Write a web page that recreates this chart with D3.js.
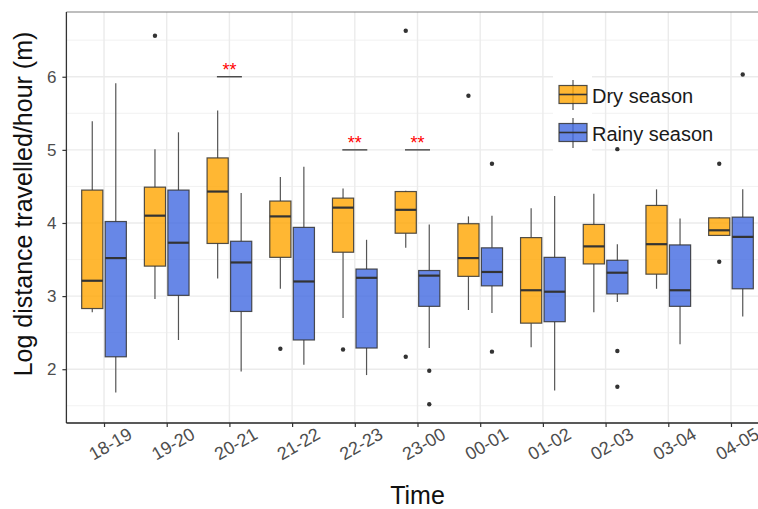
<!DOCTYPE html>
<html>
<head>
<meta charset="utf-8">
<script src="https://cdn.jsdelivr.net/npm/d3@7"></script>
<style>
  body { margin: 0; background: #fff; }
  text { font-family: "Liberation Sans", Arial, sans-serif; }
</style>
</head>
<body>
<div id="chart"></div>
<script>
// time slots (x categories)
var times = ["18-19", "19-20", "20-21", "21-22", "22-23", "23-00",
             "00-01", "01-02", "02-03", "03-04", "04-05"];

// box stats per slot: [lower whisker, q1, median, q3, upper whisker]
var dryStats = [
  [2.78, 2.83, 3.21, 4.45, 5.39],
  [2.96, 3.41, 4.10, 4.49, 5.01],
  [3.24, 3.72, 4.43, 4.89, 5.54],
  [3.10, 3.53, 4.09, 4.30, 4.63],
  [2.70, 3.60, 4.21, 4.34, 4.47],
  [3.66, 3.86, 4.18, 4.43, 4.44],
  [2.81, 3.27, 3.52, 3.99, 4.09],
  [2.30, 2.63, 3.08, 3.80, 4.20],
  [2.78, 3.44, 3.68, 3.98, 4.40],
  [3.10, 3.30, 3.71, 4.24, 4.46],
  [3.83, 3.83, 3.90, 4.07, 4.08]
];
var dryOutliers = [[], [6.56], [], [2.28], [2.27], [6.63, 2.17], [5.74], [], [], [], [4.81, 3.47]];

var rainyStats = [
  [1.68, 2.17, 3.52, 4.02, 5.91],
  [2.40, 3.01, 3.73, 4.45, 5.24],
  [1.97, 2.79, 3.46, 3.75, 4.41],
  [2.06, 2.40, 3.20, 3.94, 4.77],
  [1.92, 2.29, 3.25, 3.37, 3.77],
  [2.29, 2.86, 3.28, 3.35, 3.98],
  [2.77, 3.14, 3.33, 3.66, 4.10],
  [1.71, 2.65, 3.06, 3.53, 4.37],
  [2.92, 3.03, 3.32, 3.49, 3.71],
  [2.34, 2.86, 3.08, 3.70, 4.06],
  [2.72, 3.10, 3.81, 4.08, 4.46]
];
var rainyOutliers = [[], [], [], [], [], [1.98, 1.52], [4.81, 2.24], [], [5.01, 2.25, 1.76], [], [6.03]];

// significance marks
var sigTimes = ["20-21", "22-23", "23-00"];
var sigLevels = [6, 5, 5];
var sigLabel = "**";

var yTicks = [2, 3, 4, 5, 6];
var yMinor = [1.5, 2.5, 3.5, 4.5, 5.5, 6.5];

var width = 758,
    height = 509;
var panel = { left: 66.4, right: 768.6, top: 12, bottom: 423 };

var svg = d3.select("#chart").append("svg")
    .attr("width", width)
    .attr("height", height);

var x = d3.scalePoint()
    .domain(times)
    .range([panel.left, panel.right])
    .padding(0.6);
var step = x.step();

var allVals = [];
dryStats.concat(rainyStats).forEach(function (s) { allVals = allVals.concat(s); });
dryOutliers.concat(rainyOutliers).forEach(function (o) { allVals = allVals.concat(o); });
allVals = allVals.concat(sigLevels);
var ext = d3.extent(allVals);
var pad = (ext[1] - ext[0]) * 0.05;

var y = d3.scaleLinear()
    .domain([ext[0] - pad, ext[1] + pad])
    .range([panel.bottom, panel.top]);

var series = [
  { name: "Dry season", fill: "orange", stats: dryStats, outliers: dryOutliers, offset: -0.1875 },
  { name: "Rainy season", fill: "royalblue", stats: rainyStats, outliers: rainyOutliers, offset: 0.1875 }
];
var boxW = 0.3375 * step;

// grid
var grid = svg.append("g");
grid.selectAll(".minor").data(yMinor).enter().append("line")
    .attr("x1", panel.left).attr("x2", panel.right)
    .attr("y1", function (d) { return y(d); }).attr("y2", function (d) { return y(d); })
    .attr("stroke", "#f0f0f0").attr("stroke-width", 0.9);
grid.selectAll(".major").data(yTicks).enter().append("line")
    .attr("x1", panel.left).attr("x2", panel.right)
    .attr("y1", function (d) { return y(d); }).attr("y2", function (d) { return y(d); })
    .attr("stroke", "#ebebeb").attr("stroke-width", 1.4);
grid.selectAll(".vmajor").data(times).enter().append("line")
    .attr("y1", panel.top).attr("y2", panel.bottom)
    .attr("x1", function (d) { return x(d); }).attr("x2", function (d) { return x(d); })
    .attr("stroke", "#ebebeb").attr("stroke-width", 1.4);

// legend key backgrounds sit over the grid
var legendX = 553, legendY = 75, keyH = 38, keyW = 39;
svg.append("rect")
    .attr("x", legendX).attr("y", legendY)
    .attr("width", keyW).attr("height", keyH * 2)
    .attr("fill", "#fff");

// boxes
series.forEach(function (s) {
    var g = svg.append("g");
    s.stats.forEach(function (st, i) {
        var cx = x(times[i]) + s.offset * step;
        g.append("line")
            .attr("x1", cx).attr("x2", cx)
            .attr("y1", y(st[4])).attr("y2", y(st[3]))
            .attr("stroke", "#555").attr("stroke-width", 1.2);
        g.append("line")
            .attr("x1", cx).attr("x2", cx)
            .attr("y1", y(st[1])).attr("y2", y(st[0]))
            .attr("stroke", "#555").attr("stroke-width", 1.2);
        g.append("rect")
            .attr("x", cx - boxW / 2)
            .attr("y", y(st[3]))
            .attr("width", boxW)
            .attr("height", y(st[1]) - y(st[3]))
            .attr("fill", s.fill).attr("fill-opacity", 0.8)
            .attr("stroke", "#333").attr("stroke-opacity", 0.85).attr("stroke-width", 1.2);
        g.append("line")
            .attr("x1", cx - boxW / 2).attr("x2", cx + boxW / 2)
            .attr("y1", y(st[2])).attr("y2", y(st[2]))
            .attr("stroke", "#333").attr("stroke-width", 2.2);
        s.outliers[i].forEach(function (v) {
            g.append("circle")
                .attr("cx", cx).attr("cy", y(v)).attr("r", 2.2)
                .attr("fill", "#333");
        });
    });
});

// significance bars
sigTimes.forEach(function (t, i) {
    var cx = x(t);
    svg.append("line")
        .attr("x1", cx - 12.5).attr("x2", cx + 12.5)
        .attr("y1", y(sigLevels[i])).attr("y2", y(sigLevels[i]))
        .attr("stroke", "#444").attr("stroke-width", 1.4);
    svg.append("text")
        .attr("x", cx).attr("y", y(sigLevels[i]) - 0.8)
        .attr("text-anchor", "middle")
        .attr("font-size", 18)
        .attr("fill", "red")
        .text(sigLabel);
});

// panel border + axis lines
svg.append("line")
    .attr("x1", panel.left).attr("x2", panel.right)
    .attr("y1", panel.top).attr("y2", panel.top)
    .attr("stroke", "#7f7f7f").attr("stroke-width", 1.1);
svg.append("line")
    .attr("x1", panel.left).attr("x2", panel.left)
    .attr("y1", panel.top).attr("y2", panel.bottom)
    .attr("stroke", "#333").attr("stroke-width", 1.3);
svg.append("line")
    .attr("x1", panel.left).attr("x2", panel.right)
    .attr("y1", panel.bottom).attr("y2", panel.bottom)
    .attr("stroke", "#222").attr("stroke-width", 1.5);

// y axis
var yAxis = svg.append("g")
    .attr("transform", "translate(" + panel.left + ",0)")
    .call(d3.axisLeft(y).tickValues(yTicks).tickSize(4).tickPadding(6).tickFormat(d3.format("d")));
yAxis.select(".domain").remove();
yAxis.selectAll(".tick line").attr("stroke", "#333").attr("stroke-width", 1.2);
yAxis.selectAll(".tick text")
    .attr("fill", "#4d4d4d")
    .style("font-size", "17px")
    .style("font-family", "'Liberation Sans', Arial, sans-serif");

// x axis
var xAxis = svg.append("g")
    .attr("transform", "translate(0," + panel.bottom + ")")
    .call(d3.axisBottom(x).tickSize(4).tickFormat(""));
xAxis.select(".domain").remove();
xAxis.selectAll(".tick line").attr("stroke", "#333").attr("stroke-width", 1.2);
svg.append("g").selectAll("text").data(times).enter().append("text")
    .attr("transform", function (d) {
        return "translate(" + (x(d) + 6.5) + "," + (panel.bottom + 21) + ") rotate(-30)";
    })
    .attr("text-anchor", "middle")
    .attr("dominant-baseline", "central")
    .attr("font-size", 18)
    .attr("fill", "#4d4d4d")
    .text(function (d) { return d; });

// axis titles
svg.append("text")
    .attr("x", (panel.left + panel.right) / 2)
    .attr("y", 504)
    .attr("text-anchor", "middle")
    .attr("font-size", 25)
    .attr("fill", "#111")
    .text("Time");
svg.append("text")
    .attr("transform", "translate(32,204) rotate(-90)")
    .attr("text-anchor", "middle")
    .attr("font-size", 25)
    .attr("fill", "#111")
    .text("Log distance travelled/hour (m)");

// legend
var legend = svg.append("g");
series.forEach(function (s, i) {
    var ky = legendY + i * keyH;
    var kx = legendX + 6;
    var kw = 28;
    var cx = kx + kw / 2;
    legend.append("line")
        .attr("x1", cx).attr("x2", cx)
        .attr("y1", ky + 5).attr("y2", ky + 35)
        .attr("stroke", "#555").attr("stroke-width", 1.2);
    legend.append("rect")
        .attr("x", kx).attr("y", ky + 10.5)
        .attr("width", kw).attr("height", 18)
        .attr("fill", s.fill).attr("fill-opacity", 0.8)
        .attr("stroke", "#333").attr("stroke-opacity", 0.85).attr("stroke-width", 1.2);
    legend.append("line")
        .attr("x1", kx).attr("x2", kx + kw)
        .attr("y1", ky + 19.5).attr("y2", ky + 19.5)
        .attr("stroke", "#333").attr("stroke-width", 1.6);
    legend.append("text")
        .attr("x", legendX + 39)
        .attr("y", ky + 28)
        .attr("font-size", 20)
        .attr("fill", "#1a1a1a")
        .text(s.name);
});
</script>
</body>
</html>
